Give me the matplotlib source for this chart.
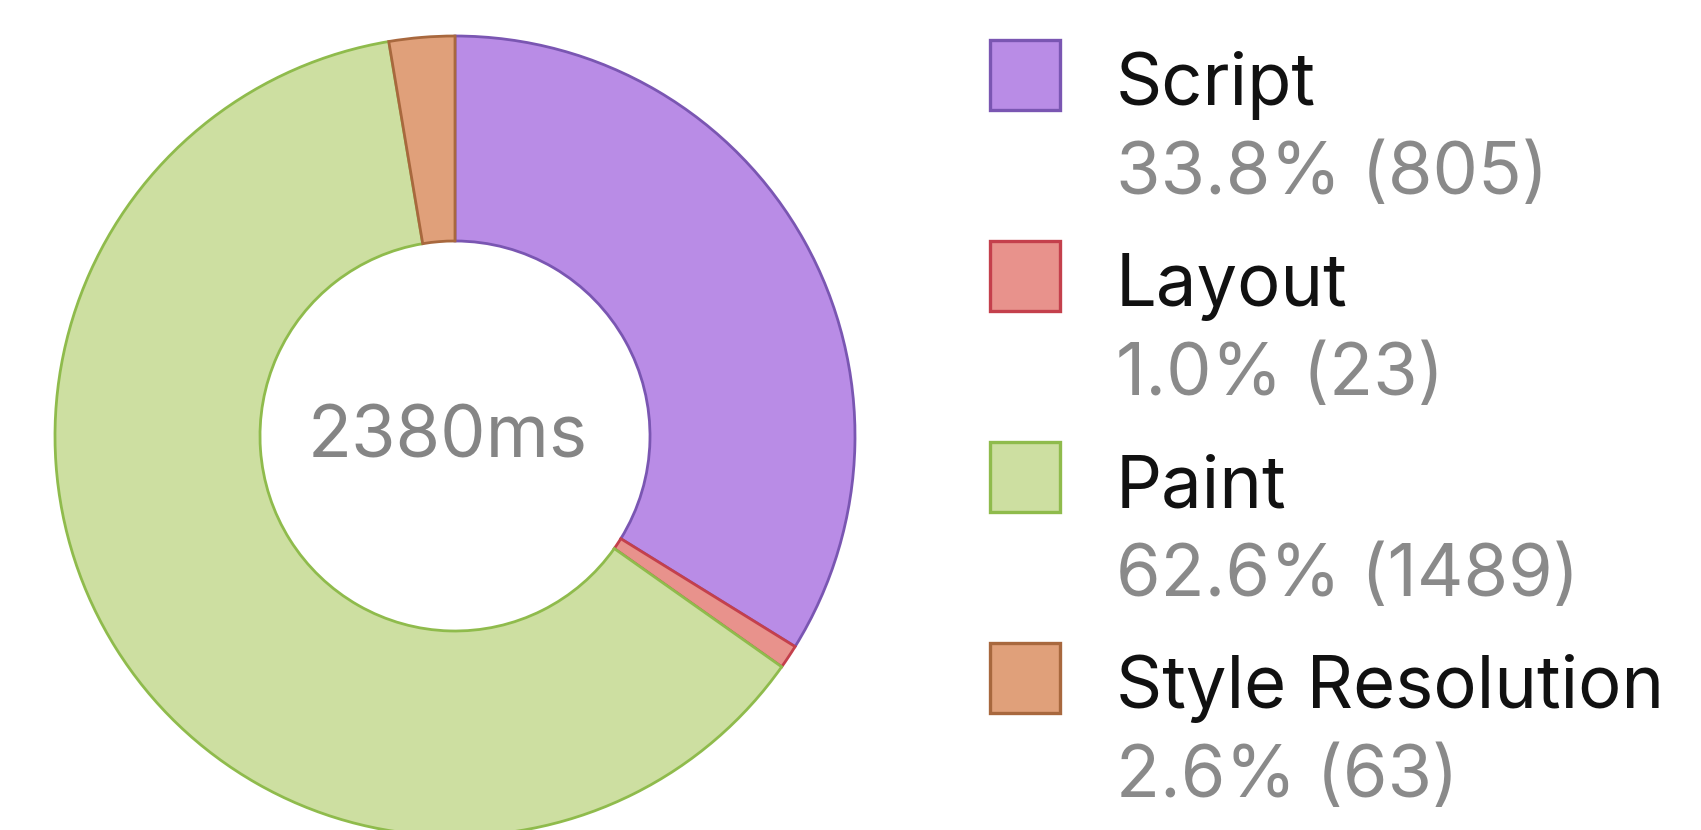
import matplotlib
matplotlib.use("Agg")
import matplotlib.pyplot as plt
from matplotlib.patches import Rectangle

plt.rcParams["font.family"] = ["Inter", "DejaVu Sans"]

# time spent per category (ms)
categories = ["Script", "Layout", "Paint", "Style Resolution"]
times_ms = [805, 23, 1489, 63]
fill_colors = ["#b98ce6", "#e8928c", "#cddfa1", "#e0a07a"]
edge_colors = ["#7a56b2", "#c4404c", "#8fbb4c", "#a8683e"]

W, H = 1701, 830
total = sum(times_ms)

fig = plt.figure(figsize=(W / 100, H / 100), dpi=100)
ax = fig.add_axes([0, 0, 1, 1])

# donut, drawn in pixel-sized data units
cx, cy = 455, H - 436
outer_r, inner_r = 400, 195
wedges, _ = ax.pie(times_ms, colors=fill_colors, startangle=90, counterclock=False,
                   center=(cx, cy), radius=outer_r,
                   wedgeprops=dict(width=outer_r - inner_r, linewidth=2.0))
for w, ec in zip(wedges, edge_colors):
    w.set_edgecolor(ec)

ax.text(cx - 7, cy - 3, f"{total}ms", ha="center", va="center",
        fontsize=52, color="#858585")

# legend: colour box, name, then share and raw value
box = 70
row_gap = 201
for i, (name, val) in enumerate(zip(categories, times_ms)):
    top = 40 + i * row_gap
    ax.add_patch(Rectangle((990, H - top - box), box, box,
                           facecolor=fill_colors[i], edgecolor=edge_colors[i], linewidth=2.4))
    ax.text(1116, H - (105 + i * row_gap), name, ha="left", va="baseline",
            fontsize=52, color="#111111")
    pct = val / total * 100
    ax.text(1116, H - (194 + i * row_gap), f"{pct:.1f}% ({val})", ha="left", va="baseline",
            fontsize=52, color="#8a8a8a")

ax.set_xlim(0, W)
ax.set_ylim(0, H)
ax.set_aspect("equal")
ax.axis("off")

fig.savefig("out.png", dpi=100, facecolor="white")
